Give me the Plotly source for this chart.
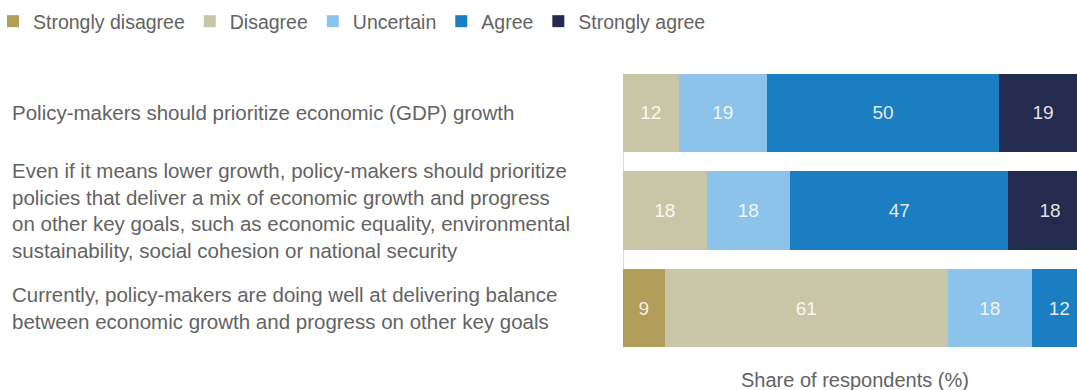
import plotly.graph_objects as go

# Survey statements (top to bottom)
statements = [
    "Policy-makers should prioritize economic (GDP) growth",
    "Even if it means lower growth, policy-makers should prioritize<br>policies that deliver a mix of economic growth and progress<br>on other key goals, such as economic equality, environmental<br>sustainability, social cohesion or national security",
    "Currently, policy-makers are doing well at delivering balance<br>between economic growth and progress on other key goals",
]
row_ids = ["s1", "s2", "s3"]

# Response shares (%) per statement
strongly_disagree = [0, 0, 9]
disagree = [12, 18, 61]
uncertain = [19, 18, 18]
agree = [50, 47, 12]
strongly_agree = [19, 18, 0]

series_names = ["Strongly disagree", "Disagree", "Uncertain", "Agree", "Strongly agree"]
series_values = [strongly_disagree, disagree, uncertain, agree, strongly_agree]
series_colors = ["#B09E5A", "#C9C6A8", "#8CC3EA", "#1C7EC2", "#232B4E"]

FONT = "Liberation Sans"
TEXT_GREY = "#636363"
BARGAP = 0.2

W, H = 1077, 390
ML, MR, MT, MB = 623, 0, 64, 33
PW = W - ML - MR
PH = H - MT - MB


def px_to_paper_x(px):
    return (px - ML) / PW


def px_to_paper_y(py):
    # py measured from the top of the figure
    return (H - MB - py) / PH


fig = go.Figure()
for name, vals, color in zip(series_names, series_values, series_colors):
    fig.add_trace(go.Bar(
        name=name,
        y=row_ids,
        x=vals,
        orientation="h",
        marker=dict(color=color, line=dict(width=0)),
        text=[str(v) if v else "" for v in vals],
        textposition="inside",
        insidetextanchor="middle",
        textfont=dict(family=FONT, size=19, color="rgba(255,255,255,0.88)"),
        hoverinfo="x+name",
    ))

# Statement labels to the left of the bars
for rid, label in zip(row_ids, statements):
    fig.add_annotation(
        x=px_to_paper_x(10), xref="paper", xanchor="left",
        y=rid, yref="y", yanchor="middle",
        text=label, showarrow=False, align="left",
        font=dict(family=FONT, size=20.5, color=TEXT_GREY),
    )

# Baseline at zero spanning the bars
half = (1 - BARGAP) / 2
fig.add_shape(type="line", xref="x", yref="y",
              x0=0, x1=0, y0=-half, y1=len(row_ids) - 1 + half,
              line=dict(color="#dddddd", width=2), layer="below")

fig.add_annotation(
    x=px_to_paper_x(855), xref="paper", xanchor="center",
    y=px_to_paper_y(380), yref="paper", yanchor="middle",
    text="Share of respondents (%)", showarrow=False,
    font=dict(family=FONT, size=20, color=TEXT_GREY),
)

fig.update_layout(
    width=W, height=H,
    margin=dict(l=ML, r=MR, t=MT, b=MB, autoexpand=False),
    barmode="stack",
    bargap=BARGAP,
    plot_bgcolor="white", paper_bgcolor="white",
    showlegend=True,
    legend=dict(
        orientation="h", xref="paper", yref="paper",
        x=px_to_paper_x(-7), y=px_to_paper_y(2), xanchor="left", yanchor="top",
        font=dict(family=FONT, size=19.5, color=TEXT_GREY),
        itemwidth=30, traceorder="normal", bgcolor="rgba(0,0,0,0)",
    ),
    xaxis=dict(range=[0, 97.8], visible=False, fixedrange=True),
    yaxis=dict(categoryorder="array", categoryarray=row_ids, autorange="reversed",
               showticklabels=False, showgrid=False, zeroline=False, fixedrange=True),
    uniformtext=dict(mode=False),
)

fig.write_html("out.html")
